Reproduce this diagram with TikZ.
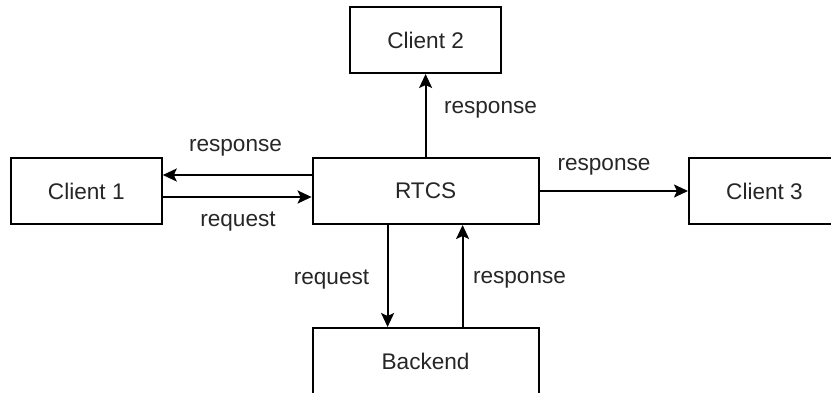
\documentclass[tikz,border=0pt]{standalone}
\usepackage{fontspec}
\setmainfont{Liberation Sans}
\usetikzlibrary{arrows.meta,calc}
\begin{document}
\begin{tikzpicture}[x=0.5pt,y=-0.5pt,
  box/.style={draw=black,line width=1pt,fill=white,minimum width=75.5pt,minimum height=33pt,inner sep=0pt,font=\fontsize{11.3pt}{13pt}\selectfont,text=black!85},
  wide/.style={box,minimum width=113pt},
  lbl/.style={font=\fontsize{11.3pt}{13pt}\selectfont,text=black!85,inner sep=0pt},
  conn/.style={line width=1pt,-{Stealth[length=7pt,width=6.5pt,inset=1.5pt]}}]
\useasboundingbox (0,0) rectangle (831,392);
\clip (0,0) rectangle (831,392);
\node[box] (c2) at (425.6,40) {Client 2};
\node[wide] (rtcs) at (425.6,191) {RTCS};
\node[box] (c1) at (86.3,191) {Client 1};
\node[box] (c3) at (764.5,191) {Client 3};
\node[wide] (be) at (425.6,361) {Backend};
% connectors
\draw[conn] (rtcs.north) -- (c2.south);
\draw[conn] ($(rtcs.west)+(0,-16)$) -- ($(c1.east)+(0,-16)$);
\draw[conn] ($(c1.east)+(0,6)$) -- ($(rtcs.west)+(0,6)$);
\draw[conn] (rtcs.east) -- (c3.west);
\draw[conn] ($(rtcs.south)+(-38,0)$) -- ($(be.north)+(-38,0)$);
\draw[conn] ($(be.north)+(37,0)$) -- ($(rtcs.south)+(37,0)$);
% labels
\node[lbl] (l1) at (490.5,110) {response};
\node[lbl] (l2) at (235.5,148) {response};
\node[lbl] (l3) at (238,222) {request};
\node[lbl] (l4) at (604,167) {response};
\node[lbl] (l5) at (331.5,280) {request};
\node[lbl] (l6) at (519.5,280) {response};
\end{tikzpicture}
\end{document}
